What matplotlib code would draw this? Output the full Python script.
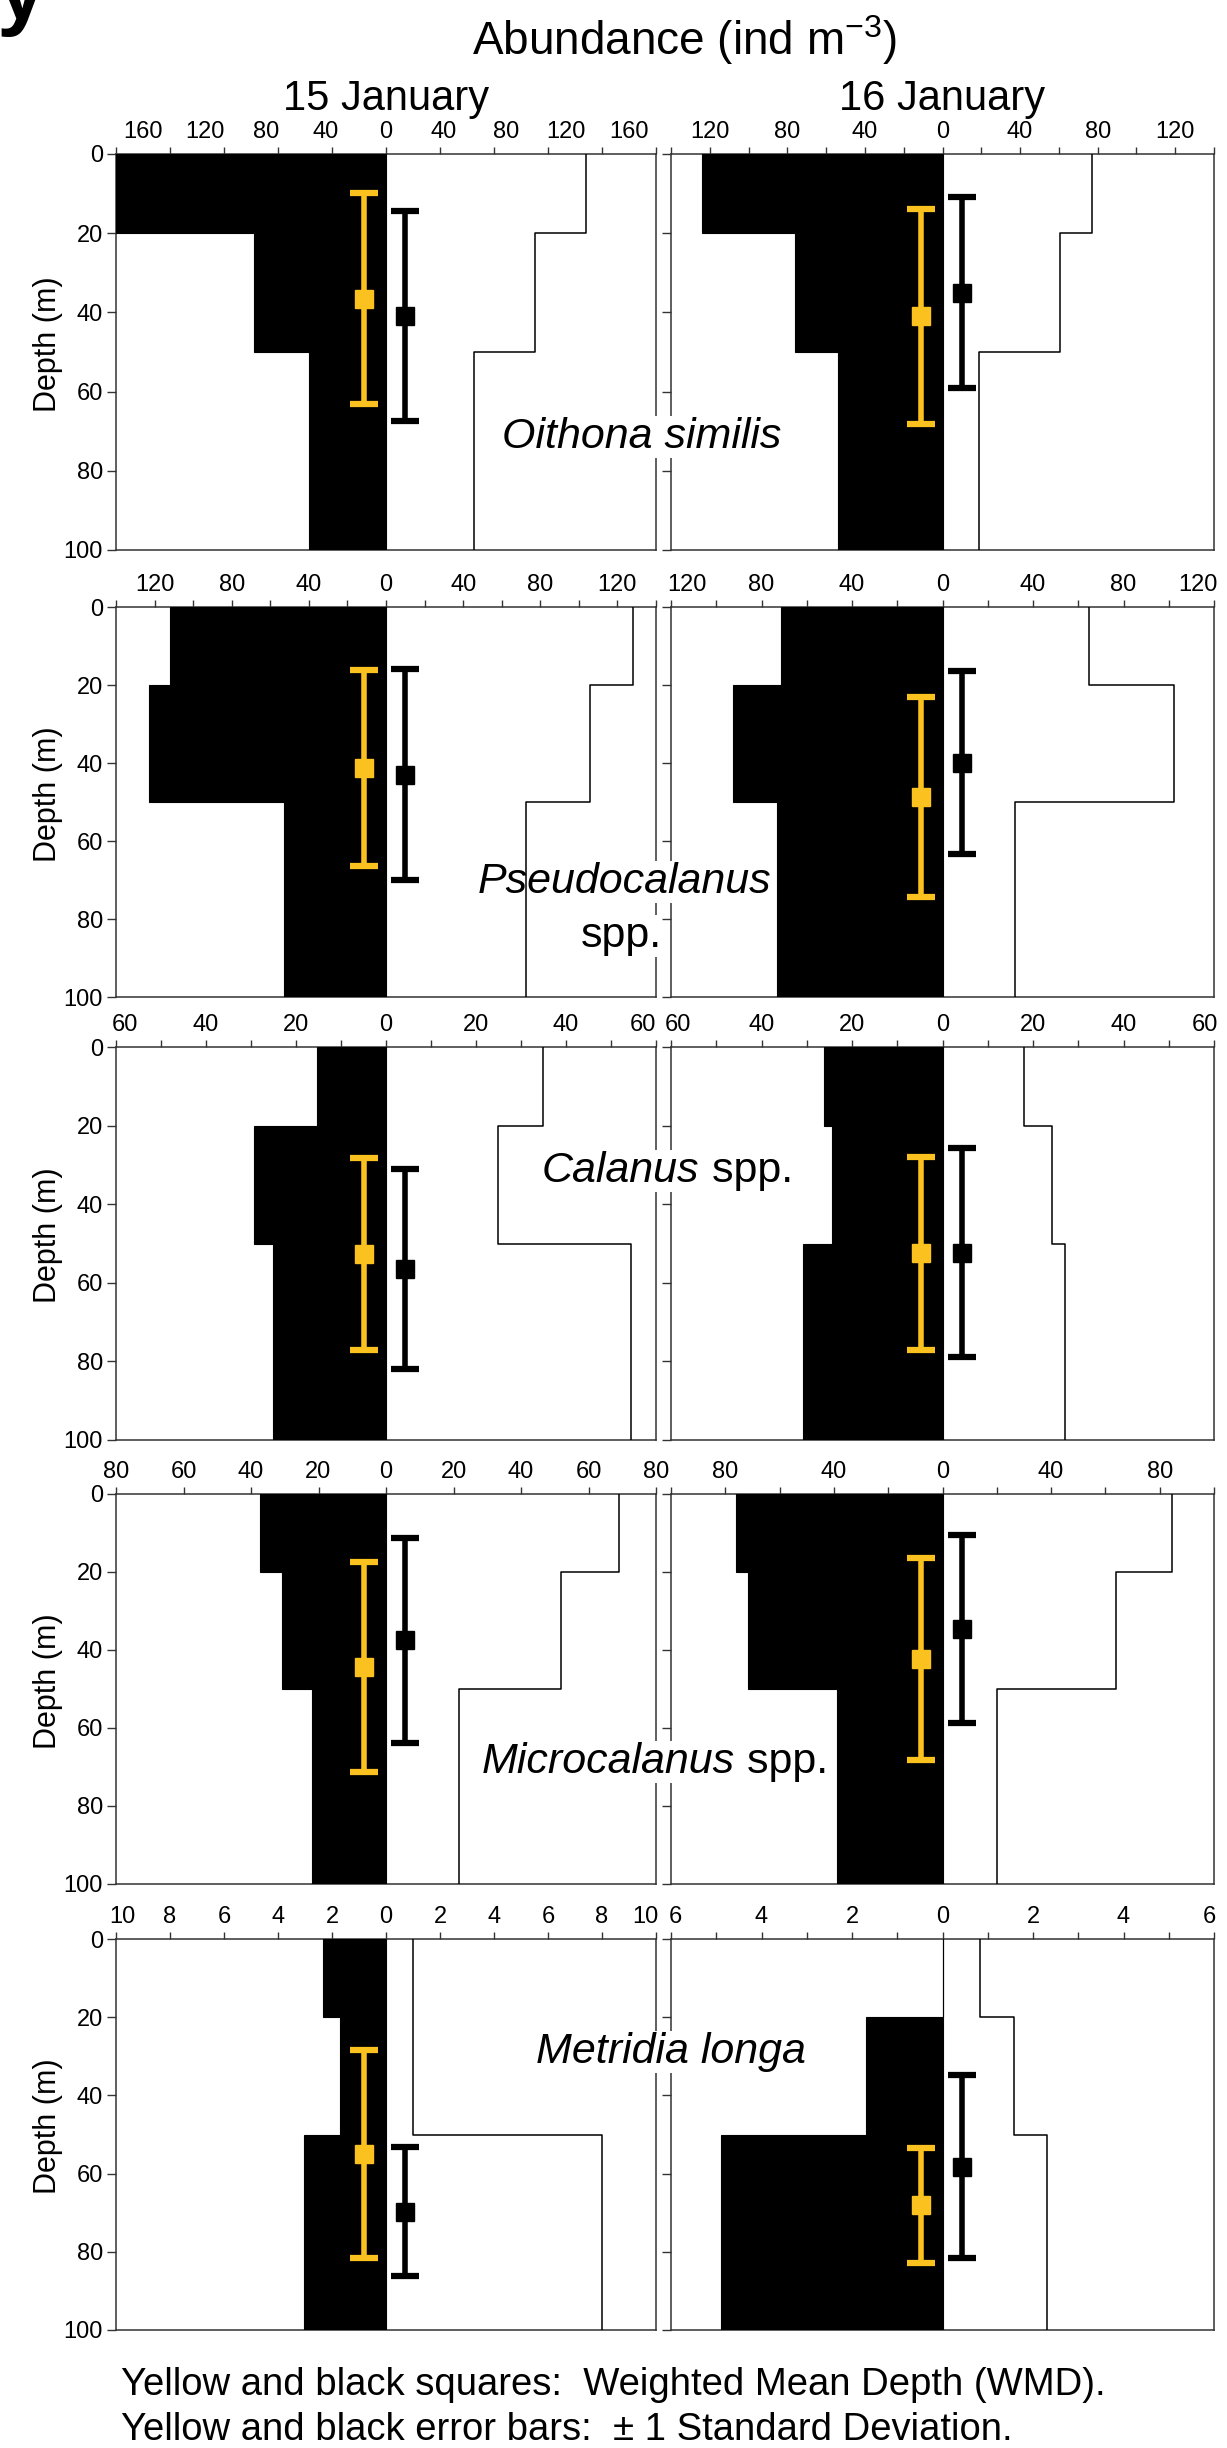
import numpy as np
import matplotlib
matplotlib.use("Agg")
import matplotlib.pyplot as plt

plt.rcParams['font.family'] = ['Liberation Sans', 'DejaVu Sans']
plt.rcParams['mathtext.fontset'] = 'custom'
plt.rcParams['mathtext.rm'] = 'Liberation Sans'
plt.rcParams['mathtext.it'] = 'Liberation Sans:italic'

W, H = 1227, 2448

# sampling layers (m)
depth_edges = [0, 20, 50, 100]

species_it = ['Oithona similis', 'Pseudocalanus', 'Calanus', 'Microcalanus', 'Metridia longa']
species_rm = ['', 'spp.', ' spp.', ' spp.', '']

# abundance (ind m-3) per layer 0-20, 20-50, 50-100 m
# filled profile is drawn to the left, open profile to the right
fill_15 = [[200, 98, 57], [112, 123, 53], [15.3, 29.4, 25.2], [37.4, 30.9, 21.9], [2.35, 1.7, 3.04]]
open_15 = [[148, 110, 65], [128, 105.6, 72.5], [34.9, 24.9, 54.4], [69, 51.9, 21.7], [1.0, 1.0, 8.0]]
fill_16 = [[124, 76, 54], [71.4, 92.8, 73.3], [26.2, 24.4, 30.9], [76.1, 71.8, 38.7], [0, 1.68, 4.9]]
open_16 = [[77, 60.6, 19], [64.8, 102.4, 32.2], [18, 24.1, 27.1], [84.7, 63.9, 20.1], [0.83, 1.58, 2.31]]

# weighted mean depth (m) and +-1 SD, yellow and black markers
wmd_y_15 = [36.5, 41.3, 52.7, 44.3, 55.0]
sd_y_15 = [26.7, 25.2, 24.5, 26.9, 26.6]
wmd_k_15 = [41.0, 43.0, 56.5, 37.5, 69.7]
sd_k_15 = [26.5, 27.0, 25.5, 26.3, 16.4]
wmd_y_16 = [41.0, 48.8, 52.5, 42.3, 68.1]
sd_y_16 = [27.1, 25.6, 24.5, 26.0, 14.7]
wmd_k_16 = [35.0, 39.9, 52.3, 34.6, 58.2]
sd_k_16 = [24.2, 23.5, 26.6, 24.0, 23.4]

# x axis half range, tick spacing and labelled values
xmax_15 = [200, 140, 60, 80, 10]
xmax_16 = [140, 120, 60, 100, 6]
step_15 = [40, 20, 10, 20, 2]
step_16 = [20, 20, 10, 20, 1]
labels_15 = [[160, 120, 80, 40, 0, 40, 80, 120, 160],
             [120, 80, 40, 0, 40, 80, 120],
             [60, 40, 20, 0, 20, 40, 60],
             [80, 60, 40, 20, 0, 20, 40, 60, 80],
             [10, 8, 6, 4, 2, 0, 2, 4, 6, 8, 10]]
labels_16 = [[120, 80, 40, 0, 40, 80, 120],
             [120, 80, 40, 0, 40, 80, 120],
             [60, 40, 20, 0, 20, 40, 60],
             [80, 40, 0, 40, 80],
             [6, 4, 2, 0, 2, 4, 6]]

# labels in the original are not always on their tick marks
label_pos_override = {
    (0, 0): [-180, -134, -89, -45, 0, 43, 89, 133, 180],
    (1, 1): [-113, -80, -40, 0, 40, 80, 113],
    (2, 0): [-58, -40, -20, 0, 20, 40, 57],
    (2, 1): [-58.5, -40, -20, 0, 20, 40, 58],
    (4, 0): [-9.75, -8, -6, -4, -2, 0, 2, 4, 6, 8, 9.6],
    (4, 1): [-5.9, -4, -2, 0, 2, 4, 5.9],
}

YELLOW = '#FBC11E'
SPINE = '#333333'

col_x = [116, 671]
col_w = [540, 543]
row_tb = [(154, 550), (607, 997), (1047, 1440), (1494, 1884), (1939, 2330)]


def fx(px):
    return px / W


def fy(py):
    return 1 - py / H


def signed(labels):
    # left half of each axis is labelled with positive numbers
    n0 = labels.index(0)
    return [-v if i < n0 else v for i, v in enumerate(labels)]


def draw_panel(ax, fill, opn, xmax, step, labels, label_pos, wy, sy, wk, sk, show_y):
    d = depth_edges
    xs, ys = [0], [0]
    for v, top, bot in zip(fill, d[:-1], d[1:]):
        xs += [-v, -v]
        ys += [top, bot]
    xs.append(0)
    ys.append(d[-1])
    ax.fill(xs, ys, facecolor='black', edgecolor='black', lw=0.8, zorder=4)

    ox, oy = [], []
    for v, top, bot in zip(opn, d[:-1], d[1:]):
        ox += [v, v]
        oy += [top, bot]
    ax.plot(ox, oy, color='black', lw=1.1, zorder=4)

    # error bars sit just either side of the zero line
    x_y = -xmax + 0.46 * 2 * xmax
    x_k = -xmax + 0.536 * 2 * xmax
    for x, m, s, c in [(x_y, wy, sy, YELLOW), (x_k, wk, sk, 'black')]:
        ax.errorbar([x], [m], yerr=[s], fmt='s', color=c, ms=13, elinewidth=4,
                    capsize=10, capthick=4.5, zorder=6)

    ax.set_xlim(-xmax, xmax)
    ax.set_ylim(100, 0)
    ax.xaxis.tick_top()
    ax.set_xticks(np.arange(-xmax, xmax + step / 2, step))
    ax.set_xticklabels([])
    ax.set_xticks(label_pos, minor=True)
    ax.set_xticklabels([str(v) for v in labels], minor=True)
    ax.xaxis.remove_overlapping_locs = False
    ax.tick_params(axis='x', which='major', length=5, width=1, color=SPINE,
                   direction='out', top=True, bottom=False,
                   labeltop=False, labelbottom=False)
    ax.tick_params(axis='x', which='minor', length=0, pad=8, labelsize=17,
                   top=True, bottom=False, labeltop=True, labelbottom=False)
    ax.set_yticks([0, 20, 40, 60, 80, 100])
    ax.tick_params(axis='y', length=6.5, width=1, color=SPINE, direction='out',
                   labelsize=17, pad=3, labelleft=show_y)
    for s in ax.spines.values():
        s.set_linewidth(1.1)
        s.set_color(SPINE)


fig = plt.figure(figsize=(W / 100, H / 100), dpi=100)

left_axes = []
for r, (top, bot) in enumerate(row_tb):
    for c in range(2):
        ax = fig.add_axes([fx(col_x[c]), fy(bot), col_w[c] / W, (bot - top) / H])
        ax.set_zorder(1 if c == 0 else 0)
        if c == 0:
            args = (fill_15[r], open_15[r], xmax_15[r], step_15[r], labels_15[r],
                    wmd_y_15[r], sd_y_15[r], wmd_k_15[r], sd_k_15[r])
            left_axes.append(ax)
        else:
            args = (fill_16[r], open_16[r], xmax_16[r], step_16[r], labels_16[r],
                    wmd_y_16[r], sd_y_16[r], wmd_k_16[r], sd_k_16[r])
        fill, opn, xmax, step, labels, wy, sy, wk, sk = args
        pos = label_pos_override.get((r, c), signed(labels))
        draw_panel(ax, fill, opn, xmax, step, labels, pos, wy, sy, wk, sk, c == 0)

    fig.text(fx(48), fy((top + bot) / 2 - 8), 'Depth (m)', rotation=90,
             ha='center', va='center', fontsize=22)

# species names, drawn on the left axes so they mask the spines they cross
renderer = fig.canvas.get_renderer()
box = dict(facecolor='white', edgecolor='none', pad=0.5)
name_pos = [(502, 448), (624.5, 893), (542, 1182), (482, 1773), (536, 2063)]
for r, ax in enumerate(left_axes):
    x0, yb = name_pos[r]
    if r == 1:
        ax.text(fx(x0), fy(yb), species_it[r], style='italic', fontsize=31,
                ha='center', va='baseline', transform=fig.transFigure,
                clip_on=False, zorder=3, bbox=box)
        ax.text(fx(621), fy(947), species_rm[r], fontsize=31, ha='center',
                va='baseline', transform=fig.transFigure, clip_on=False,
                zorder=3, bbox=box)
        continue
    t = ax.text(fx(x0), fy(yb), species_it[r], style='italic', fontsize=31,
                ha='left', va='baseline', transform=fig.transFigure,
                clip_on=False, zorder=3, bbox=box)
    if species_rm[r]:
        ext = t.get_window_extent(renderer)
        ax.text(ext.x1 / W, fy(yb), species_rm[r], fontsize=31, ha='left',
                va='baseline', transform=fig.transFigure, clip_on=False,
                zorder=3, bbox=box)

fig.text(fx(685), fy(55), 'Abundance (ind m$^{-3}$)', ha='center', va='baseline', fontsize=33)
fig.text(fx(386), fy(110), '15 January', ha='center', va='baseline', fontsize=30)
fig.text(fx(942), fy(110), '16 January', ha='center', va='baseline', fontsize=30)
fig.text(fx(-4), fy(18), 'y', ha='left', va='baseline', fontsize=64, fontweight='bold')

fig.text(fx(121), fy(2395), 'Yellow and black squares:  Weighted Mean Depth (WMD).',
         ha='left', va='baseline', fontsize=27.5)
fig.text(fx(121), fy(2440), 'Yellow and black error bars:  \u00b1 1 Standard Deviation.',
         ha='left', va='baseline', fontsize=27.5)

fig.savefig('out.png', dpi=100)
plt.close(fig)
